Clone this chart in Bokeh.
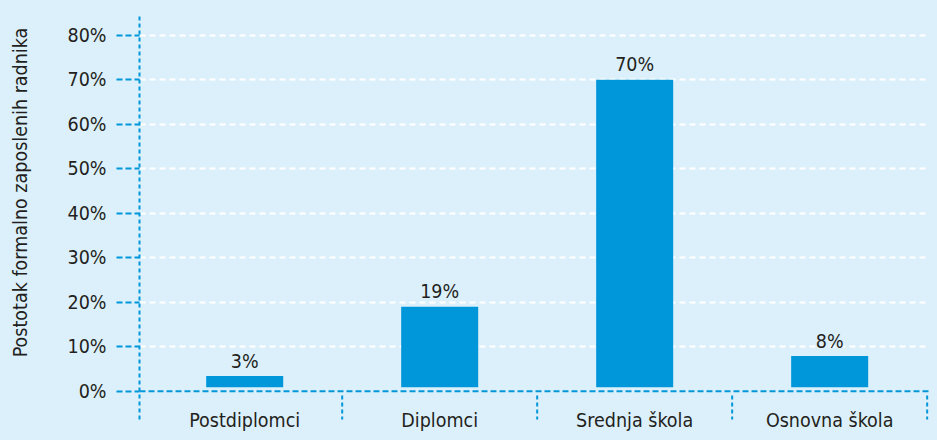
import numpy as np
from bokeh.plotting import figure
from bokeh.layouts import row
from bokeh.models import (Range1d, FixedTicker, Span,
                          PrintfTickFormatter, CustomJSTickFormatter)
from bokeh.embed import file_html
from bokeh.resources import INLINE
from bokeh.core.properties import value

# ---- data ----
categories = ["Postdiplomci", "Diplomci", "Srednja škola", "Osnovna škola"]
shares = [3.4, 19.0, 70.0, 7.9]
value_labels = ["3%", "19%", "70%", "8%"]
y_ticks = [0, 10, 20, 30, 40, 50, 60, 70, 80]
y_title = "Postotak formalno zaposlenih radnika"

# ---- style ----
BG = "#dcf0fb"
BLUE = "#0096da"
TEXT = "#231f20"
FONT = "DejaVu Sans Condensed"
FS = "19.5px"
BAR_BASE = 0.9
Y_START, Y_END = -9.28, 84.65
AXIS_LOW = -6.36
DIV_TOP = -0.97
X_START, X_END = -0.0395, 4.012
TITLE_W = 40          # width of the strip holding the y title
TITLE_X = 20.3        # baseline position inside that strip
TITLE_MID = 44.65     # vertical centre of the title, in axis units

x = [i + 0.5 for i in range(len(categories))]
dividers = [i + 1 for i in range(len(categories))]

y_range = Range1d(Y_START, Y_END)

p = figure(width=929 - TITLE_W, height=432, output_backend="svg", toolbar_location=None,
           x_range=Range1d(X_START, X_END), y_range=y_range,
           min_border_left=139 - TITLE_W, min_border_right=0, min_border_top=14, min_border_bottom=0)
p.background_fill_color = BG
p.border_fill_color = BG
p.outline_line_color = None

# grid
p.xgrid.visible = False
p.ygrid.ticker = FixedTicker(ticks=y_ticks[1:])
p.ygrid.grid_line_color = "white"
p.ygrid.grid_line_width = 2
p.ygrid.grid_line_dash = "6 4"

# y axis
ya = p.yaxis[0]
ya.ticker = FixedTicker(ticks=y_ticks)
ya.formatter = PrintfTickFormatter(format="%d%%")
ya.bounds = (AXIS_LOW, Y_END)
ya.axis_line_color = BLUE
ya.axis_line_width = 2
ya.axis_line_dash = "4 3"
ya.major_tick_line_color = BLUE
ya.major_tick_line_width = 2
ya.major_tick_line_dash = "6 3"
ya.major_tick_out = 23
ya.major_tick_in = 0
ya.minor_tick_line_color = None
ya.major_label_standoff = 10
ya.major_label_text_font = FONT
ya.major_label_text_font_size = FS
ya.major_label_text_color = TEXT

# x axis, fixed inside the frame
xa = p.xaxis[0]
xa.fixed_location = AXIS_LOW
xa.ticker = FixedTicker(ticks=x)
xa.formatter = CustomJSTickFormatter(args=dict(labels=categories),
                                     code="return labels[Math.round(tick - 0.5)] || '';")
xa.axis_line_color = None
xa.major_tick_line_color = None
xa.minor_tick_line_color = None
xa.major_tick_out = 0
xa.major_tick_in = 0
xa.major_label_standoff = -11
xa.major_label_text_font = FONT
xa.major_label_text_font_size = FS
xa.major_label_text_color = TEXT

# zero line
p.add_layout(Span(location=0, dimension="width", line_color=BLUE, line_width=2, line_dash="6 3"))

# category dividers
p.segment(x0=dividers, x1=dividers, y0=[DIV_TOP] * len(dividers), y1=[AXIS_LOW] * len(dividers),
          line_color=BLUE, line_width=2, line_dash="4 3")

# bars
p.vbar(x=x, top=shares, bottom=BAR_BASE, width=0.395, fill_color=BLUE, line_color=None)

# value labels
p.text(x=x, y=shares, text=value_labels, text_align="center", text_baseline="alphabetic",
       y_offset=-15, text_font=value(FONT), text_font_size=FS, text_color=TEXT)

# strip with the rotated y title
t = figure(width=TITLE_W, height=432, output_backend="svg", toolbar_location=None,
           x_range=Range1d(0, TITLE_W), y_range=y_range,
           x_axis_type=None, y_axis_type=None,
           min_border_left=0, min_border_right=0, min_border_top=14, min_border_bottom=0)
t.background_fill_color = BG
t.border_fill_color = BG
t.outline_line_color = None
t.grid.visible = False
t.text(x=[TITLE_X], y=[TITLE_MID], text=[y_title], angle=np.pi / 2,
       text_align="center", text_baseline="alphabetic",
       text_font=value(FONT), text_font_size=FS, text_color=TEXT)

layout = row(t, p, spacing=0)

html = file_html(layout, INLINE)
html = html.replace("</head>", "<style>body{background:%s;}</style></head>" % BG, 1)
open("out.html", "w").write(html)
